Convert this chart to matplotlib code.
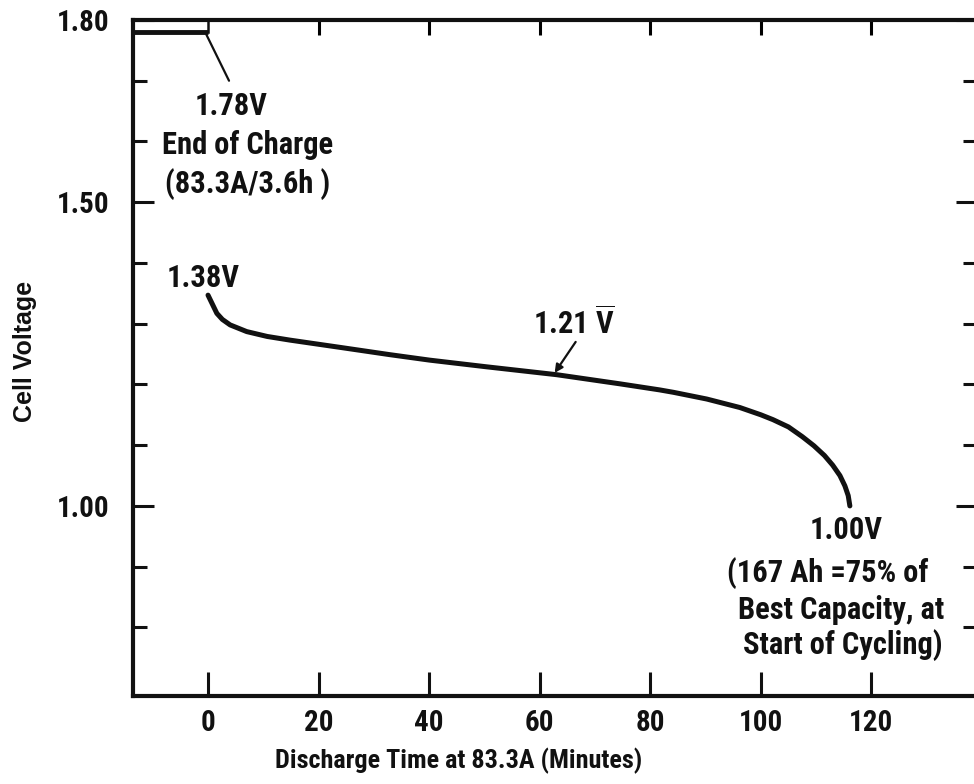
import matplotlib
matplotlib.use("Agg")
import matplotlib.pyplot as plt
import matplotlib.font_manager as fm
from matplotlib.ticker import FixedLocator, FixedFormatter


def pick_narrow_font():
    """Return (family, stretch, scale) for a bold condensed sans, if any."""
    entries = fm.fontManager.ttflist
    names = {f.name for f in entries}
    for fam in ["Liberation Sans Narrow", "DejaVu Sans Condensed",
                "Roboto Condensed", "Noto Sans Condensed",
                "Open Sans Condensed"]:
        if fam in names:
            return fam, "normal", 1.0
    for f in entries:
        if (f.name in ("DejaVu Sans", "Noto Sans", "Roboto", "Open Sans")
                and str(f.stretch) in ("condensed", "semi-condensed",
                                       "extra-condensed")):
            return f.name, str(f.stretch), 0.92
    return "Liberation Sans", "normal", 0.86


FONT, STRETCH, SCALE = pick_narrow_font()
plt.rcParams["font.family"] = [FONT, "DejaVu Sans"]
plt.rcParams["font.stretch"] = STRETCH
plt.rcParams["font.weight"] = "bold"
plt.rcParams["mathtext.fontset"] = "custom"
plt.rcParams["mathtext.rm"] = FONT + ":bold"
plt.rcParams["mathtext.it"] = FONT + ":bold"
plt.rcParams["mathtext.bf"] = FONT + ":bold"

# End-of-charge level (held up to the start of discharge)
charge_time = [-20, 0]
charge_volt = [1.78, 1.78]

# Discharge curve at 83.3 A
discharge_time = [0, 0.8, 1.6, 2.6, 4.0, 7.0, 10.7, 14.8, 23.9, 32.9, 40.1,
                  50.4, 63.1, 74.5, 78.1, 81.7, 84.2, 90.2, 96.2, 100.0,
                  102.2, 105.0, 107.5, 109.6, 111.5, 113.0, 114.3, 115.2,
                  115.8, 116.1]
discharge_volt = [1.347, 1.332, 1.317, 1.307, 1.298, 1.287, 1.279, 1.273,
                  1.261, 1.249, 1.240, 1.229, 1.216, 1.201, 1.196, 1.191,
                  1.187, 1.176, 1.162, 1.150, 1.142, 1.130, 1.114, 1.099,
                  1.083, 1.067, 1.050, 1.033, 1.017, 1.00]

x_ticks = [0, 20, 40, 60, 80, 100, 120]
x_top_ticks = [20, 40, 60, 80, 100, 120]
y_major = [1.00, 1.50, 1.80]
y_major_labels = ["1.00", "1.50", "1.80"]
y_minor = [0.80, 0.90, 1.10, 1.20, 1.30, 1.40, 1.60, 1.70]

fig = plt.figure(figsize=(9.74, 7.84), dpi=100)
ax = fig.add_axes([0.1366, 0.1122, 0.8665, 0.8623])
ax.set_xlim(-13.56, 139.1)
ax.set_ylim(0.687, 1.80)

ink = "#111111"
for s in ax.spines.values():
    s.set_linewidth(3.0)
    s.set_color(ink)

# charge level and box edge at t = 0
ax.plot(charge_time, charge_volt, color=ink, lw=3.5, solid_capstyle="butt")
ax.plot([charge_time[-1], charge_time[-1]], [charge_volt[-1], 1.80],
        color=ink, lw=1.8)

# discharge curve
ax.plot(discharge_time, discharge_volt, color=ink, lw=3.6,
        solid_capstyle="round", solid_joinstyle="round")

tick_fs = 21 * SCALE
text_fs = 22 * SCALE

# axis ticks
ax.xaxis.set_major_locator(FixedLocator(x_ticks))
ax.tick_params(axis="x", which="major", direction="in", length=17, width=2.2,
               pad=9, labelsize=tick_fs, bottom=True, top=False, colors=ink)
top = ax.secondary_xaxis("top")
top.xaxis.set_major_locator(FixedLocator(x_top_ticks))
top.tick_params(direction="in", length=11, width=2.2, labeltop=False)
top.spines["top"].set_visible(False)

ax.yaxis.set_major_locator(FixedLocator(y_major))
ax.yaxis.set_major_formatter(FixedFormatter(y_major_labels))
ax.yaxis.set_minor_locator(FixedLocator(y_minor))
ax.tick_params(axis="y", which="major", direction="in", length=15, width=2.2,
               pad=17, labelsize=tick_fs, left=True, right=True, colors=ink)
ax.tick_params(axis="y", which="minor", direction="in", length=10, width=2.2,
               left=True, right=True, colors=ink)

# axis titles
ax.set_xlabel("Discharge Time at 83.3A (Minutes)", fontsize=text_fs * 0.86,
              fontweight="bold", color=ink)
ax.xaxis.set_label_coords(0.386, -0.096)
ax.xaxis.label.set_verticalalignment("center")
ax.set_ylabel("Cell Voltage", fontsize=18, fontweight="bold", color=ink,
              family=["Liberation Sans", "DejaVu Sans"], stretch="normal")
ax.yaxis.set_label_coords(-0.128, 0.509)
ax.yaxis.label.set_verticalalignment("center")

tk = dict(fontsize=text_fs, fontweight="bold", color=ink)

# end of charge annotation
ax.annotate("", xy=(-0.3, 1.776), xytext=(3.8, 1.70),
            arrowprops=dict(arrowstyle="-", lw=1.6, color=ink,
                            shrinkA=0, shrinkB=0))
ax.text(4.25, 1.658, "1.78V", ha="center", va="center", **tk)
ax.text(7.2, 1.594, "End of Charge", ha="center", va="center", **tk)
ax.text(7.1, 1.530, "(83.3A/3.6h )", ha="center", va="center", **tk)

# start of discharge
ax.text(-7.4, 1.376, "1.38V", ha="left", va="center", **tk)

# mean discharge voltage
ax.annotate("", xy=(62.7, 1.219), xytext=(66.5, 1.270),
            arrowprops=dict(arrowstyle="-|>", lw=1.6, color=ink,
                            mutation_scale=12, shrinkA=0, shrinkB=0))
ax.text(66.1, 1.300, r"1.21 $\overline{\mathrm{V}}$", ha="center",
        va="center", **tk)

# end of discharge
ax.text(115.5, 0.960, "1.00V", ha="center", va="center", **tk)
ax.text(112.0, 0.890, "(167 Ah =75% of", ha="center", va="center", **tk)
ax.text(114.5, 0.829, "Best Capacity, at", ha="center", va="center", **tk)
ax.text(114.8, 0.771, "Start of Cycling)", ha="center", va="center", **tk)

fig.savefig("out.png", dpi=100, facecolor="white")
